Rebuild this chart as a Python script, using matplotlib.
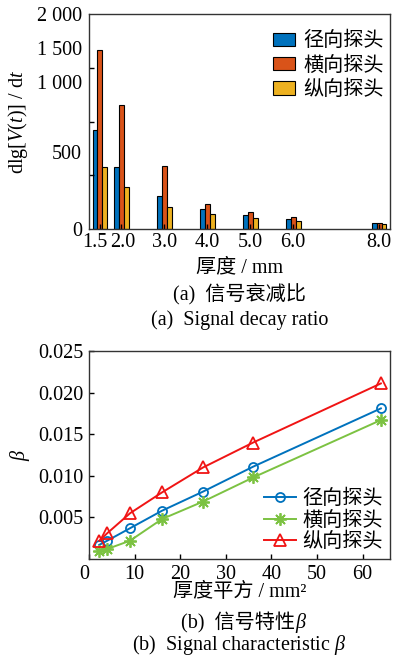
import matplotlib
matplotlib.use("Agg")
import matplotlib.pyplot as plt
import matplotlib.transforms as mtransforms
import numpy as np

plt.rcParams["font.family"] = ["Liberation Serif", "Noto Sans CJK SC", "DejaVu Sans"]
plt.rcParams["mathtext.fontset"] = "custom"
plt.rcParams["mathtext.rm"] = "Liberation Serif"
plt.rcParams["mathtext.it"] = "Liberation Serif:italic"
plt.rcParams["axes.linewidth"] = 1.0
plt.rcParams["axes.edgecolor"] = "#333333"

FS = 14.5

# ---- (a) signal decay ratio ----
thickness = [1.5, 2.0, 3.0, 4.0, 5.0, 6.0, 8.0]
thick_labels = ["1.5", "2.0", "3.0", "4.0", "5.0", "6.0", "8.0"]
radial = [921, 574, 307, 186, 130, 90, 59]
transverse = [1665, 1153, 589, 230, 155, 109, 59]
longitudinal = [580, 394, 207, 137, 99, 71, 47]
probe_names = ["径向探头", "横向探头", "纵向探头"]

# y tick labels as printed in the figure (positions as they appear)
ylab_pos = [0, 716, 1367, 1684, 2000]
ylab_txt = ["0", "500", "1 000", "1 500", "2 000"]
ytick_marks = [500, 1000, 1500]

# ---- (b) signal characteristic beta ----
thick_sq = [2.25, 4, 9, 16, 25, 36, 64]
beta_radial = [0.0017, 0.0022, 0.0037, 0.0058, 0.0081, 0.0111, 0.0181]
beta_trans = [0.0010, 0.0012, 0.0022, 0.0048, 0.0069, 0.0098, 0.0167]
beta_long = [0.0022, 0.0031, 0.0055, 0.0080, 0.0110, 0.0140, 0.0211]

fig = plt.figure(figsize=(3.94, 6.65), dpi=100)

ax1 = fig.add_axes([89 / 394, 1 - 229 / 665, 301 / 394, 215 / 665])
x = np.array(thickness)
w = 0.115
cols = ["#0072BD", "#D95319", "#EDB120"]
for k, (vals, c, name) in enumerate(zip([radial, transverse, longitudinal], cols, probe_names)):
    ax1.bar(x + (k - 1) * w, vals, width=w, color=c, edgecolor="black", linewidth=0.8, label=name)
ax1.set_xlim(1.245, 8.255)
ax1.set_ylim(0, 2000)
ax1.set_xticks(thickness)
ax1.set_xticklabels(thick_labels)
ax1.set_yticks(ytick_marks)
ax1.set_yticklabels([])
ax1.set_yticks(ylab_pos, minor=True)
ax1.set_yticklabels(ylab_txt, minor=True)
ax1.tick_params(axis="both", which="major", direction="in", length=3.5, width=1.0,
                labelsize=FS, pad=3)
ax1.tick_params(axis="y", which="minor", length=0, labelsize=FS, pad=5)
# the 1.5 / 2.0 labels sit close together, nudge them apart a little
for i, dx in [(0, -5), (1, 1)]:
    lab = ax1.xaxis.get_major_ticks()[i].label1
    lab.set_transform(lab.get_transform()
                      + mtransforms.ScaledTranslation(dx / 100, 0, fig.dpi_scale_trans))
ax1.set_ylabel(r"dlg[$V$($t$)] / d$t$", fontsize=FS)
ax1.yaxis.label.set_va("center")
ax1.yaxis.set_label_coords(-0.236, 0.5)
ax1.set_xlabel("厚度 / mm", fontsize=FS)
ax1.xaxis.label.set_va("center")
ax1.xaxis.set_label_coords(0.5, -0.181)
ax1.legend(loc="upper right", bbox_to_anchor=(1.0, 0.944), frameon=False, fontsize=FS,
           handlelength=1.1, handleheight=0.65, handletextpad=0.4, labelspacing=0.25,
           borderaxespad=0.0, borderpad=0.3)

# ---- (b) ----
ax2 = fig.add_axes([89 / 394, 1 - 559 / 665, 301 / 394, 208 / 665])
ax2.plot(thick_sq, beta_radial, color="#0072BD", lw=1.4, marker="o", ms=6.5,
         mfc="none", mew=1.3, label=probe_names[0])
ax2.plot(thick_sq, beta_trans, color="#7CC242", lw=1.4, marker=(8, 2, 0), ms=9,
         mew=1.3, label=probe_names[1])
ax2.plot(thick_sq, beta_long, color="#F01414", lw=1.4, marker="^", ms=8.5,
         mfc="none", mew=1.3, label=probe_names[2])
ax2.set_xlim(0, 66)
ax2.set_ylim(0, 0.025)
ax2.set_xticks([0, 10, 20, 30, 40, 50, 60])
ax2.set_yticks([0.005, 0.010, 0.015, 0.020, 0.025])
ax2.set_yticklabels(["0.005", "0.010", "0.015", "0.020", "0.025"])
ax2.tick_params(axis="both", direction="in", length=3.5, width=1.0, labelsize=FS, pad=4)
ax2.get_xticklabels()[0].set_ha("right")
ax2.set_ylabel(r"$\beta$", fontsize=FS)
ax2.yaxis.label.set_va("center")
ax2.yaxis.set_label_coords(-0.229, 0.5)
ax2.set_xlabel("厚度平方 / mm²", fontsize=FS)
ax2.xaxis.label.set_va("center")
ax2.xaxis.set_label_coords(0.5, -0.159)
ax2.legend(loc="lower right", frameon=False, fontsize=FS, handlelength=1.6,
           handletextpad=0.3, labelspacing=0.1, borderaxespad=0.15, borderpad=0.2)

# captions
cx = 239.5 / 394
fig.text(cx, 1 - 295 / 665, "(a)  信号衰减比", ha="center", va="center", fontsize=FS)
fig.text(cx, 1 - 320 / 665, "(a)  Signal decay ratio", ha="center", va="center", fontsize=FS)
fig.text(295 / 394, 1 - 623 / 665, "(b)  信号特性", ha="right", va="center", fontsize=FS)
fig.text(295 / 394, 1 - 623 / 665, "β", ha="left", va="center", fontsize=FS, style="italic")
fig.text(cx, 1 - 645 / 665, r"(b)  Signal characteristic $\beta$", ha="center", va="center",
         fontsize=FS)

fig.savefig("out.png", dpi=100)
